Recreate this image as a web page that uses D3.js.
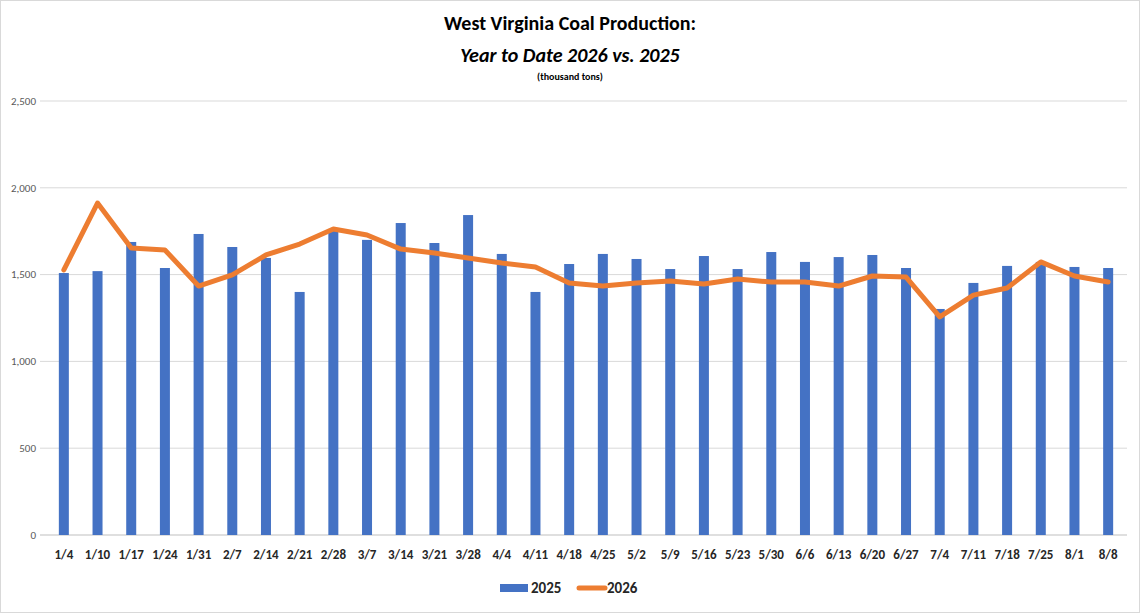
<!DOCTYPE html>
<html><head><meta charset="utf-8">
<script src="https://cdn.jsdelivr.net/npm/d3@7"></script>
<style>body{margin:0;background:#fff}</style>
</head><body><div id="chart"></div>
<script>
const weeks = ['1/4','1/10','1/17','1/24','1/31','2/7','2/14','2/21','2/28','3/7','3/14','3/21','3/28','4/4','4/11','4/18','4/25','5/2','5/9','5/16','5/23','5/30','6/6','6/13','6/20','6/27','7/4','7/11','7/18','7/25','8/1','8/8'];
const prod2025 = [1509,1520,1688,1538,1734,1659,1596,1400,1763,1700,1797,1682,1843,1619,1400,1561,1619,1590,1532,1607,1532,1630,1573,1601,1613,1538,1302,1452,1550,1573,1544,1538];
const prod2026 = [1527,1912,1653,1642,1434,1498,1613,1676,1763,1728,1647,1624,1596,1567,1544,1452,1434,1452,1463,1446,1475,1457,1457,1434,1492,1486,1256,1382,1423,1573,1492,1457];
const yTicks = [0,500,1000,1500,2000,2500];

const width = 1140, height = 613,
      margin = {top: 101, right: 15, bottom: 78, left: 47},
      innerWidth = width - margin.left - margin.right,
      innerHeight = height - margin.top - margin.bottom;
const font = 'Calibri, Carlito, "Open Sans", "Liberation Sans", Arial, sans-serif';

const svg = d3.select('#chart').append('svg')
	.attr('width', width).attr('height', height);

svg.append('rect').attr('x', 0.5).attr('y', 0.5)
	.attr('width', width - 1).attr('height', height - 1)
	.style('fill', '#fff').style('stroke', '#d9d9d9');

const x = d3.scaleBand().domain(weeks).range([0, innerWidth]);
const y = d3.scaleLinear().domain([0, 2500]).range([innerHeight, 0]);

const g = svg.append('g').attr('transform', `translate(${margin.left},${margin.top})`);

// grid
g.selectAll('.grid').data(yTicks).enter().append('line')
	.attr('x1', -7).attr('x2', innerWidth + 2)
	.attr('y1', d => y(d)).attr('y2', d => y(d))
	.style('stroke', d => d === 0 ? '#bfbfbf' : '#d9d9d9').style('stroke-width', 1);

// y axis labels
g.selectAll('.ylab').data(yTicks).enter().append('text')
	.attr('x', -11).attr('y', d => y(d)).attr('dy', '0.35em')
	.attr('text-anchor', 'end')
	.style('font-family', font).style('font-size', '11px').style('fill', '#595959')
	.text(d => d3.format(',')(d));

// x axis labels
g.selectAll('.xlab').data(weeks).enter().append('text')
	.attr('x', d => x(d) + x.bandwidth() / 2).attr('y', innerHeight + 24)
	.attr('text-anchor', 'middle')
	.style('font-family', font).style('font-size', '13px').style('font-weight', 'bold').style('fill', '#262626')
	.text(d => d);

// bars
const barW = 10;
g.selectAll('.bar').data(prod2025).enter().append('rect')
	.attr('x', (d, i) => x(weeks[i]) + x.bandwidth() / 2 - barW / 2)
	.attr('width', barW)
	.attr('y', d => y(d)).attr('height', d => innerHeight - y(d))
	.style('fill', '#4472c4');

// line
const line = d3.line()
	.x((d, i) => x(weeks[i]) + x.bandwidth() / 2)
	.y(d => y(d));
g.append('path').datum(prod2026)
	.attr('d', line)
	.style('fill', 'none').style('stroke', '#ed7d31')
	.style('stroke-width', 5).style('stroke-linejoin', 'round').style('stroke-linecap', 'round');

// titles
svg.append('text').attr('x', width / 2).attr('y', 30).attr('text-anchor', 'middle')
	.style('font-family', font).style('font-size', '20px').style('font-weight', 'bold').style('fill', '#000')
	.text('West Virginia Coal Production:');
svg.append('text').attr('x', width / 2).attr('y', 62).attr('text-anchor', 'middle')
	.style('font-family', font).style('font-size', '20px').style('font-weight', 'bold').style('font-style', 'italic').style('fill', '#000')
	.text('Year to Date 2026 vs. 2025');
svg.append('text').attr('x', width / 2).attr('y', 80).attr('text-anchor', 'middle')
	.style('font-family', font).style('font-size', '10px').style('font-weight', 'bold').style('fill', '#000')
	.text('(thousand tons)');

// legend
const legend = svg.append('g').attr('transform', 'translate(0,588)');
legend.append('rect').attr('x', 500).attr('y', -4).attr('width', 28).attr('height', 8).style('fill', '#4472c4');
legend.append('text').attr('x', 531).attr('y', 0).attr('dy', '0.35em')
	.style('font-family', font).style('font-size', '15px').style('font-weight', 'bold').style('fill', '#262626').text('2025');
legend.append('line').attr('x1', 579).attr('x2', 605).attr('y1', 0).attr('y2', 0)
	.style('stroke', '#ed7d31').style('stroke-width', 5).style('stroke-linecap', 'round');
legend.append('text').attr('x', 607).attr('y', 0).attr('dy', '0.35em')
	.style('font-family', font).style('font-size', '15px').style('font-weight', 'bold').style('fill', '#262626').text('2026');
</script>
</body></html>
